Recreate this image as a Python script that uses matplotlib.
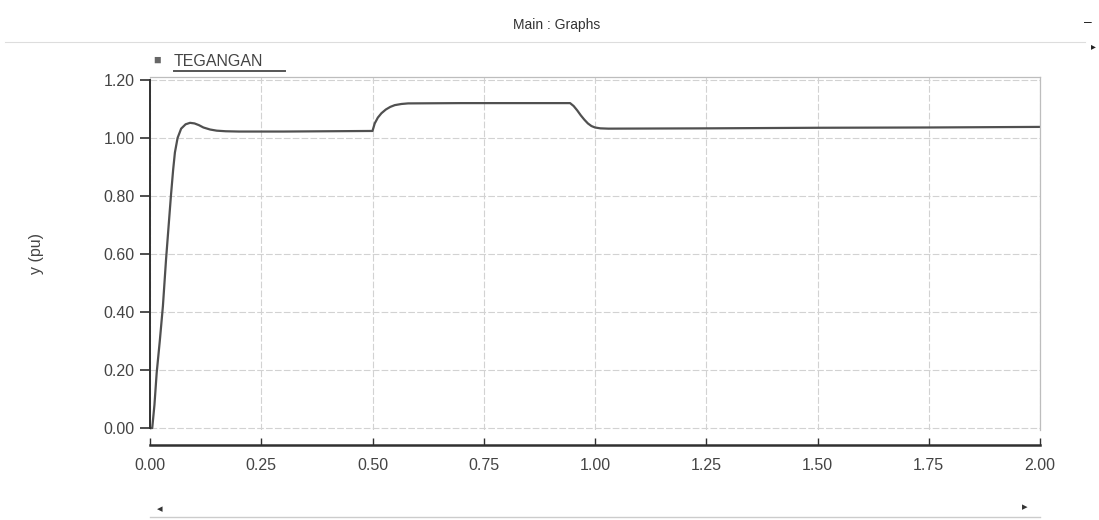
import matplotlib
matplotlib.use("Agg")
import matplotlib.pyplot as plt
from matplotlib.lines import Line2D

plt.rcParams['font.family'] = ['Liberation Sans', 'DejaVu Sans']

# TEGANGAN (pu)
waktu = [0.0, 0.005, 0.010, 0.015, 0.022, 0.029, 0.036, 0.042, 0.047, 0.052,
         0.056, 0.062, 0.070, 0.080, 0.090, 0.100, 0.110, 0.120, 0.135, 0.150,
         0.170, 0.200, 0.300, 0.400, 0.500, 0.505, 0.512, 0.520, 0.530, 0.540,
         0.550, 0.565, 0.580, 0.700, 0.800, 0.944, 0.952, 0.960, 0.968, 0.976,
         0.984, 0.992, 1.000, 1.012, 1.030, 1.250, 1.500, 1.750, 2.000]
tegangan = [0.0, 0.0, 0.08, 0.19, 0.30, 0.42, 0.58, 0.70, 0.80, 0.89,
            0.95, 1.00, 1.032, 1.047, 1.052, 1.050, 1.044, 1.036, 1.029, 1.025,
            1.023, 1.022, 1.022, 1.023, 1.024, 1.050, 1.070, 1.085, 1.098, 1.107,
            1.113, 1.117, 1.119, 1.120, 1.120, 1.120, 1.110, 1.095, 1.078, 1.063,
            1.050, 1.041, 1.036, 1.033, 1.032, 1.033, 1.035, 1.036, 1.038]

x_ticks = [0.0, 0.25, 0.5, 0.75, 1.0, 1.25, 1.5, 1.75, 2.0]
y_ticks = [0.0, 0.2, 0.4, 0.6, 0.8, 1.0, 1.2]

W, H = 1099, 520
fig = plt.figure(figsize=(W / 100, H / 100), dpi=100)
ax = fig.add_axes([150 / W, 1 - 429.5 / H, 890 / W, (429.5 - 77) / H])

ax.plot(waktu, tegangan, color='#505050', lw=1.6)

ax.set_xlim(0, 2.0)
ax.set_ylim(-0.005, 1.21)
ax.set_xticks(x_ticks)
ax.set_xticklabels([f'{v:.2f}' for v in x_ticks])
ax.set_yticks(y_ticks)
ax.set_yticklabels([f'{v:.2f}' for v in y_ticks])
ax.grid(True, color='#d2d2d2', lw=0.8, ls=(0, (6, 2)))

for s in ['top', 'right']:
    ax.spines[s].set_color('#bdbdbd')
    ax.spines[s].set_linewidth(0.9)
ax.spines['left'].set_color('#303030')
ax.spines['left'].set_linewidth(1.4)
ax.spines['left'].set_bounds(0, 1.2)
ax.spines['bottom'].set_position(('outward', 11.5))
ax.spines['bottom'].set_color('#303030')
ax.spines['bottom'].set_linewidth(1.8)

ax.tick_params(axis='y', direction='out', length=7, width=1.2, color='#303030',
               labelsize=11.5, labelcolor='#444444', pad=4)
ax.tick_params(axis='x', direction='in', length=5, width=1.0, color='#303030',
               labelsize=11.5, labelcolor='#444444', pad=9)
ax.set_ylabel('y (pu)', fontsize=11.5, color='#444444', labelpad=43)

# window decorations
fig.text(557 / W, 1 - 25 / H, 'Main : Graphs', ha='center', va='center',
         fontsize=10, color='#333333')
fig.add_artist(Line2D([5 / W, 1085 / W], [1 - 42 / H, 1 - 42 / H],
                      color='#dddddd', lw=0.8))
fig.text(153 / W, 1 - 61 / H, '\u25a0', ha='left', va='center',
         fontsize=9, color='#666666')
fig.text(174 / W, 1 - 61 / H, 'TEGANGAN', ha='left', va='center',
         fontsize=11.5, color='#444444')
fig.add_artist(Line2D([174 / W, 285 / W], [1 - 71 / H, 1 - 71 / H],
                      color='#555555', lw=1.4))
fig.text(1088 / W, 1 - 22 / H, '\u2013', ha='center', va='center',
         fontsize=10, color='#222222')
fig.text(1093 / W, 1 - 46 / H, '\u25b8', ha='center', va='center',
         fontsize=7, color='#222222')

# scrollbar
fig.add_artist(Line2D([150 / W, 1040 / W], [1 - 517 / H, 1 - 517 / H],
                      color='#cccccc', lw=1.0))
fig.text(160 / W, 1 - 509 / H, '\u25c2', ha='center', va='center',
         fontsize=8, color='#333333')
fig.text(1025 / W, 1 - 507 / H, '\u25b8', ha='center', va='center',
         fontsize=8, color='#333333')

fig.savefig('out.png', dpi=100)
plt.close(fig)
